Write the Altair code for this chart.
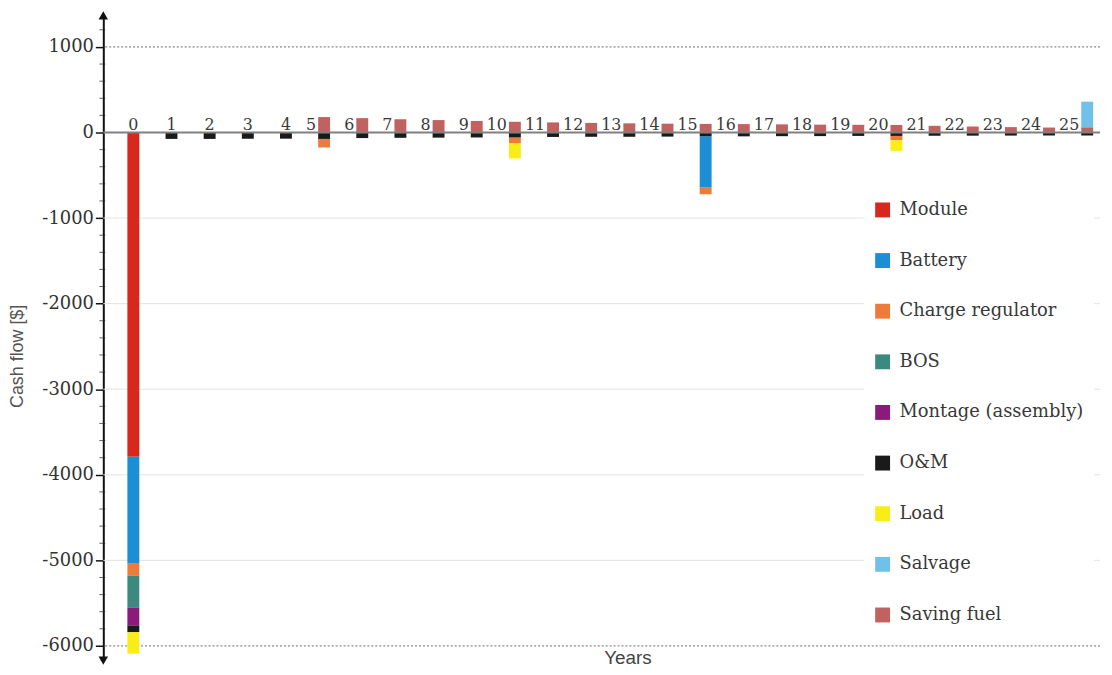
import altair as alt
import pandas as pd

years = list(range(26))
categories = ["Module", "Battery", "Charge regulator", "BOS", "Montage (assembly)",
              "O&M", "Load", "Salvage", "Saving fuel"]
colors = ["#d8281d", "#1b8ed6", "#ef7b3b", "#3b8a80", "#8a1b7d",
          "#1a1a1a", "#f9ec17", "#6fc1ea", "#c0625f"]

module = [-3790, 0, 0, 0, 0, 0, 0, 0, 0, 0, 0, 0, 0, 0, 0, 0, 0, 0, 0, 0, 0, 0, 0, 0, 0, 0]
battery = [-1240, 0, 0, 0, 0, 0, 0, 0, 0, 0, 0, 0, 0, 0, 0, -600, 0, 0, 0, 0, 0, 0, 0, 0, 0, 0]
charge_regulator = [-150, 0, 0, 0, 0, -100, 0, 0, 0, 0, -70, 0, 0, 0, 0, -77, 0, 0, 0, 0, -50, 0, 0, 0, 0, 0]
bos = [-370, 0, 0, 0, 0, 0, 0, 0, 0, 0, 0, 0, 0, 0, 0, 0, 0, 0, 0, 0, 0, 0, 0, 0, 0, 0]
montage = [-210, 0, 0, 0, 0, 0, 0, 0, 0, 0, 0, 0, 0, 0, 0, 0, 0, 0, 0, 0, 0, 0, 0, 0, 0, 0]
om = [-80, -75, -75, -73, -72, -75, -65, -62, -60, -58, -58, -52, -50, -50, -48, -45,
      -45, -43, -42, -40, -40, -38, -37, -36, -35, -35]
load = [-250, 0, 0, 0, 0, 0, 0, 0, 0, 0, -175, 0, 0, 0, 0, 0, 0, 0, 0, 0, -125, 0, 0, 0, 0, 0]
salvage = [0, 0, 0, 0, 0, 0, 0, 0, 0, 0, 0, 0, 0, 0, 0, 0, 0, 0, 0, 0, 0, 0, 0, 0, 0, 300]
saving_fuel = [0, 0, 0, 0, 0, 180, 168, 155, 145, 135, 125, 118, 112, 107, 103, 100,
               98, 95, 92, 90, 88, 78, 70, 63, 58, 60]

series = [module, battery, charge_regulator, bos, montage, om, load, salvage, saving_fuel]

y_major = [1000, 0, -1000, -2000, -3000, -4000, -5000, -6000]
y_minor = [v for v in range(-6000, 1201, 200) if v % 1000 != 0]
grid_light = [-1000, -2000, -3000, -4000, -5000]
grid_dotted = [1000, -6000]
y_domain = [-6172, 1369]
x_domain = [-0.657, 25.206]

rows = []
for ci, (cat, vals) in enumerate(zip(categories, series)):
    for yr, v in zip(years, vals):
        if v != 0:
            order = ci
            if cat == "O&M" and yr > 0:
                order = -1
            if cat == "Saving fuel":
                order = -2
            rows.append({"year": yr, "category": cat, "value": v, "ord": order})
df = pd.DataFrame(rows)

lab = pd.DataFrame({
    "year": years,
    "label": [str(y) for y in years],
    "zero": [0] * len(years),
    "haspos": [1 if (s > 0 or g > 0) else 0 for s, g in zip(saving_fuel, salvage)],
})

xs = alt.Scale(domain=x_domain, nice=False, zero=False)
ys = alt.Scale(domain=y_domain, nice=False, zero=False)

serif = "DejaVu Serif"
sans = "Liberation Sans"

grid_l = alt.Chart(pd.DataFrame({"v": grid_light})).mark_rule(
    color="#e2e2e2", strokeWidth=1).encode(y=alt.Y("v:Q", scale=ys))
grid_d = alt.Chart(pd.DataFrame({"v": grid_dotted})).mark_rule(
    color="#6a6a6a", strokeWidth=1, strokeDash=[2, 2]).encode(y=alt.Y("v:Q", scale=ys))

bars = alt.Chart(df).mark_bar(size=12).encode(
    x=alt.X("year:Q", scale=xs,
            axis=alt.Axis(title="Years", labels=False, ticks=False, domain=False, grid=False,
                          offset=-12, titlePadding=0, titleFont=sans, titleFontSize=19,
                          titleFontWeight="normal", titleColor="#444", titleX=528)),
    y=alt.Y("value:Q", scale=ys, stack="zero",
            axis=alt.Axis(values=y_major, grid=False, domain=True, domainColor="#111",
                          domainWidth=2, tickColor="#111", tickSize=8, tickWidth=1.5,
                          labelFont=serif, labelFontSize=18, labelColor="#333",
                          labelPadding=2, labelExpr="'' + datum.value",
                          title="Cash flow [$]", titleFont=sans, titleFontSize=18,
                          titleFontWeight="normal", titleColor="#555", titleX=-86,
                          titleY=343, titleBaseline="middle", titleAngle=270)),
    color=alt.Color("category:N", scale=alt.Scale(domain=categories, range=colors),
                    legend=alt.Legend(title=None, orient="none", legendX=766, legendY=177,
                                      fillColor="white", padding=10, symbolType="square",
                                      symbolSize=225, symbolStrokeWidth=0,
                                      labelFont=serif, labelFontSize=18, labelColor="#383838",
                                      labelOffset=8, rowPadding=33, labelLimit=400)),
    order=alt.Order("ord:Q"),
)

zero_line = alt.Chart(pd.DataFrame({"v": [0]})).mark_rule(
    color="#808080", strokeWidth=2).encode(y=alt.Y("v:Q", scale=ys))

lab_c = alt.Chart(lab).transform_filter("datum.haspos == 0").mark_text(
    font=serif, fontSize=16, color="#3a3a3a", align="center", baseline="alphabetic", dy=-3
).encode(x=alt.X("year:Q", scale=xs), y=alt.Y("zero:Q", scale=ys), text="label:N")
lab_r = alt.Chart(lab).transform_filter("datum.haspos == 1").mark_text(
    font=serif, fontSize=16, color="#3a3a3a", align="right", baseline="alphabetic", dy=-3, dx=-8
).encode(x=alt.X("year:Q", scale=xs), y=alt.Y("zero:Q", scale=ys), text="label:N")

minor = alt.Chart(pd.DataFrame({"v": y_minor})).mark_tick(
    color="#222", size=6, thickness=1, xOffset=-1).encode(
    x=alt.value(0), y=alt.Y("v:Q", scale=ys))

arrows = alt.Chart(pd.DataFrame({"v": y_domain, "shape": ["triangle-down", "triangle-up"]})).mark_point(
    filled=True, color="#111", size=90, opacity=1).encode(
    x=alt.value(0), y=alt.Y("v:Q", scale=ys),
    shape=alt.Shape("shape:N", scale=None))

chart = alt.layer(grid_l, grid_d, bars, zero_line, lab_c, lab_r, minor, arrows).properties(
    width=1004, height=650,
    background="white",
    padding={"left": 96, "top": 5, "right": 4, "bottom": 4},
    autosize=alt.AutoSizeParams(type="none"),
).configure_view(stroke=None)

chart.save("out.html", embed_options={"renderer": "svg", "actions": False})
